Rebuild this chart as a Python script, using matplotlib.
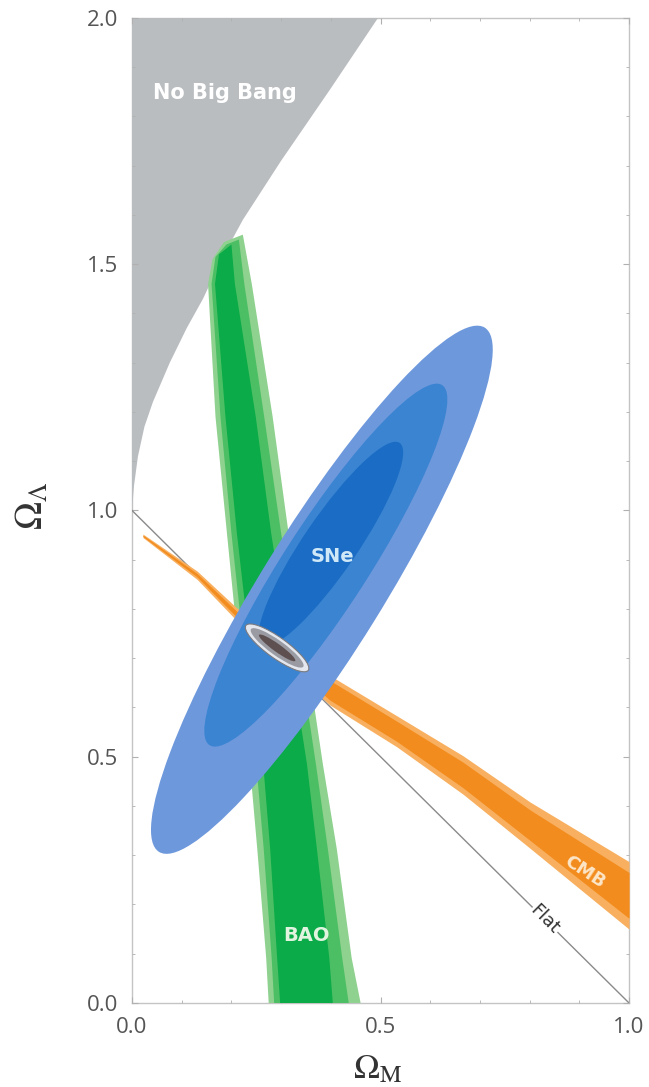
import numpy as np
import matplotlib
matplotlib.use("Agg")
import matplotlib.pyplot as plt
from matplotlib.patches import Ellipse, Polygon

# "No Big Bang" boundary
nbb_x = [0.0, 0.004, 0.012, 0.025, 0.042, 0.076, 0.11, 0.143, 0.18, 0.223, 0.30, 0.398, 0.495]
nbb_y = [1.0, 1.05, 1.11, 1.17, 1.22, 1.30, 1.37, 1.43, 1.51, 1.59, 1.71, 1.854, 2.0]

# BAO band edges at these Omega_Lambda levels
bao_y = [1.46, 1.19, 0.954, 0.485, 0.313, 0.091, 0.0]
bao_out_l = [0.153, 0.168, 0.191, 0.237, 0.252, 0.270, 0.275]
bao_out_r = [0.241, 0.283, 0.315, 0.384, 0.412, 0.442, 0.460]
bao_mid_l = [0.160, 0.178, 0.200, 0.250, 0.265, 0.281, 0.286]
bao_mid_r = [0.226, 0.266, 0.300, 0.370, 0.394, 0.423, 0.436]
bao_in_l = [0.167, 0.188, 0.211, 0.264, 0.278, 0.292, 0.298]
bao_in_r = [0.207, 0.249, 0.280, 0.352, 0.372, 0.397, 0.404]
bao_top_out = [(0.162, 1.51), (0.185, 1.545), (0.223, 1.56)]
bao_top_mid = [(0.168, 1.515), (0.19, 1.54), (0.215, 1.55)]
bao_top_in = [(0.175, 1.52), (0.20, 1.54)]

# CMB band
cmb_x = [0.022, 0.131, 0.211, 0.398, 0.533, 0.666, 0.801, 1.0]
cmb_top = [0.952, 0.877, 0.802, 0.665, 0.583, 0.502, 0.408, 0.287]
cmb_bot = [0.945, 0.860, 0.776, 0.605, 0.520, 0.424, 0.314, 0.150]
cmb_in_top = [0.950, 0.872, 0.795, 0.655, 0.572, 0.489, 0.392, 0.265]
cmb_in_bot = [0.947, 0.865, 0.783, 0.615, 0.531, 0.437, 0.330, 0.172]

# SNe contours: centre x, centre y, major, minor, angle
sne_cx = [0.382, 0.390, 0.400]
sne_cy = [0.839, 0.889, 0.932]
sne_w = [1.25, 0.868, 0.495]
sne_h = [0.246, 0.170, 0.109]
sne_ang = [58.4, 57.4, 56.0]
sne_col = ['#6e98dc', '#3a84d2', '#1a6cc4']

# combined constraint
comb_cx, comb_cy, comb_ang = 0.292, 0.721, -36
comb_w = [0.155, 0.13, 0.09]
comb_h = [0.042, 0.030, 0.016]
comb_col = ['#e4e8ee', '#9a9aa2', '#5e5050']

fig = plt.figure(figsize=(6.49, 10.87), dpi=100)
ax = fig.add_axes([0.2034, 0.0773, 0.7658, 0.9062])
ax.set_xlim(0, 1)
ax.set_ylim(0, 2.0)

# no big bang
pts = list(zip(nbb_x, nbb_y)) + [(0.0, 2.0)]
ax.add_patch(Polygon(pts, closed=True, fc='#babdc0', ec='none', zorder=1))


def band(left, right, top):
    return [top[0]] + list(zip(left, bao_y)) + list(zip(right, bao_y))[::-1] + top[::-1][:-1]


for l, r, t, c in [(bao_out_l, bao_out_r, bao_top_out, '#8fd18f'),
                   (bao_mid_l, bao_mid_r, bao_top_mid, '#4cbf64'),
                   (bao_in_l, bao_in_r, bao_top_in, '#0aab48')]:
    ax.add_patch(Polygon(band(l, r, t), closed=True, fc=c, ec='none', zorder=2))

# flat line
ax.plot([0, 1], [1, 0], color='#8a8a8a', lw=1, zorder=2.5)

# CMB
ax.fill_between(cmb_x, cmb_bot, cmb_top, color='#f8b060', lw=0, zorder=3)
ax.fill_between(cmb_x, cmb_in_bot, cmb_in_top, color='#f28c1e', lw=0, zorder=3.1)

# SNe
for i in range(3):
    ax.add_patch(Ellipse((sne_cx[i], sne_cy[i]), sne_w[i], sne_h[i], angle=sne_ang[i],
                         fc=sne_col[i], ec='none', zorder=4 + i))

for i in range(3):
    ax.add_patch(Ellipse((comb_cx, comb_cy), comb_w[i], comb_h[i], angle=comb_ang,
                         fc=comb_col[i], ec='#7a7a80' if i == 0 else 'none', lw=0.8,
                         zorder=8 + i))

ax.text(0.187, 1.848, 'No Big Bang', color='white', fontsize=15, fontweight='bold',
        ha='center', va='center', zorder=12)
ax.text(0.404, 0.906, 'SNe', color='#cfe8f8', fontsize=14, fontweight='bold',
        ha='center', va='center', zorder=12)
ax.text(0.352, 0.138, 'BAO', color='#e0f4e0', fontsize=14, fontweight='bold',
        ha='center', va='center', zorder=12)
ax.text(0.911, 0.266, 'CMB', color='#fde6c8', fontsize=13, fontweight='bold',
        rotation=-33, ha='center', va='center', zorder=12)
ax.text(0.831, 0.169, 'Flat', color='#333333', fontsize=13, rotation=-45,
        ha='center', va='center', zorder=12,
        bbox=dict(fc='white', ec='none', pad=0.5))

# axes styling
for s in ax.spines.values():
    s.set_color('#c4c4c4')
    s.set_linewidth(1)
    s.set_zorder(0.5)
ax.set_xticks([0, 0.5, 1.0])
ax.set_xticks(np.arange(0, 1.01, 0.1), minor=True)
ax.set_yticks([0, 0.5, 1.0, 1.5, 2.0])
ax.set_yticks(np.arange(0, 2.01, 0.1), minor=True)
ax.set_xticklabels(['0.0', '0.5', '1.0'])
ax.set_yticklabels(['0.0', '0.5', '1.0', '1.5', '2.0'])
ax.tick_params(which='both', direction='in', top=True, right=True, color='#b0b0b0',
               labelcolor='#555555', labelsize=16, pad=10)
ax.tick_params(which='major', length=4)
ax.tick_params(which='minor', length=2.5)
for lab in ax.get_xticklabels() + ax.get_yticklabels():
    lab.set_fontfamily('Open Sans')

ax.text(0.495, -0.066, r'$\Omega_{\rm M}$', transform=ax.transAxes, fontsize=25,
        ha='center', va='center', color='#333333', math_fontfamily='stix')
ax.text(-0.2, 0.505, r'$\Omega_\Lambda$', transform=ax.transAxes, fontsize=27,
        ha='center', va='center', rotation=90, color='#333333', math_fontfamily='stix')

fig.savefig('out.png', dpi=100)
